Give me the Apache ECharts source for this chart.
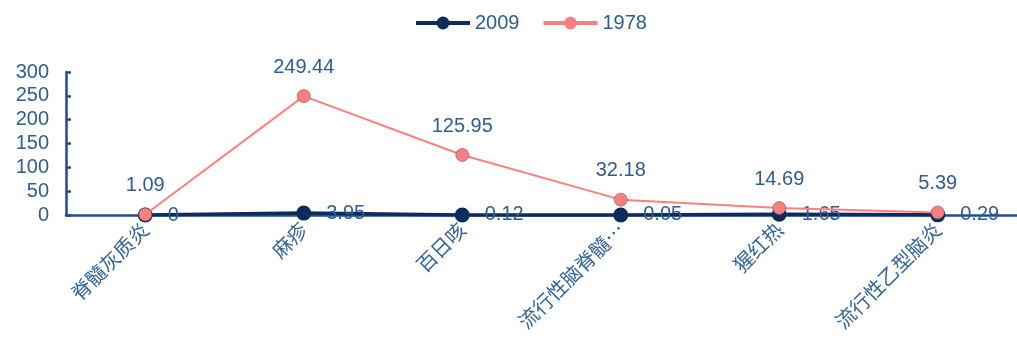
<!DOCTYPE html>
<html><head><meta charset="utf-8">
<script src="https://cdn.jsdelivr.net/npm/echarts@6/dist/echarts.min.js"></script>
<style>html,body{margin:0;padding:0;background:#fff}#c{width:1017px;height:340px}</style>
</head><body><div id="c"></div>
<script>
const categories = ['脊髓灰质炎','麻疹','百日咳','流行性脑脊髓膜炎','猩红热','流行性乙型脑炎'];
const values2009 = [0, 3.95, 0.12, 0.05, 1.65, 0.29];
const values1978 = [1.09, 249.44, 125.95, 32.18, 14.69, 5.39];
const yTicks = [0, 50, 100, 150, 200, 250, 300];

const txt = '#2d5d92';
const font = 'Liberation Sans, Arial, sans-serif';
const chart = echarts.init(document.getElementById('c'));
chart.setOption({
  animation: false,
  textStyle: {fontFamily: font},
  legend: {
    top: 8, left: 409, itemWidth: 54, itemHeight: 16, itemGap: 22,
    lineStyle: {width: 4},
    itemStyle: {borderWidth: 0},
    textStyle: {color: txt, fontSize: 20, fontFamily: font},
    data: ['2009', '1978']
  },
  grid: {left: 66, right: -2, top: 72, bottom: 125},
  xAxis: {
    type: 'category', data: categories, boundaryGap: true,
    axisLine: {lineStyle: {color: '#1f4f8f', width: 2.5}},
    axisTick: {show: false},
    axisLabel: {
      rotate: 45, interval: 0, color: '#33649a', fontSize: 20, margin: 11,
      fontFamily: 'Noto Sans CJK SC',
      formatter: v => v.length > 7 ? v.slice(0, 6) + '…' : v
    }
  },
  yAxis: {
    type: 'value', min: 0, max: 300, interval: 50,
    axisLine: {show: true, lineStyle: {color: '#1f4f8f', width: 2.5}},
    axisTick: {show: true, inside: true, length: 5, lineStyle: {color: '#1f4f8f', width: 2.5}},
    splitLine: {show: false},
    axisLabel: {color: txt, fontSize: 20, margin: 17, fontFamily: font,
      customValues: yTicks}
  },
  series: [
    {
      name: '2009', type: 'line', data: values2009,
      symbol: 'circle', symbolSize: 15,
      lineStyle: {color: '#0d2b5b', width: 3.5},
      itemStyle: {color: '#0d2b5b'},
      label: {show: true, position: 'right', distance: 15, color: txt, fontSize: 20, fontFamily: font},
      z: 2
    },
    {
      name: '1978', type: 'line', data: values1978,
      symbol: 'circle', symbolSize: 13,
      lineStyle: {color: '#fa8080', width: 2},
      itemStyle: {color: '#fa8080', borderColor: '#7a5060', borderWidth: 0.6},
      label: {show: true, position: 'top', distance: 12, color: txt, fontSize: 20, fontFamily: font},
      z: 3
    }
  ]
});
</script></body></html>
